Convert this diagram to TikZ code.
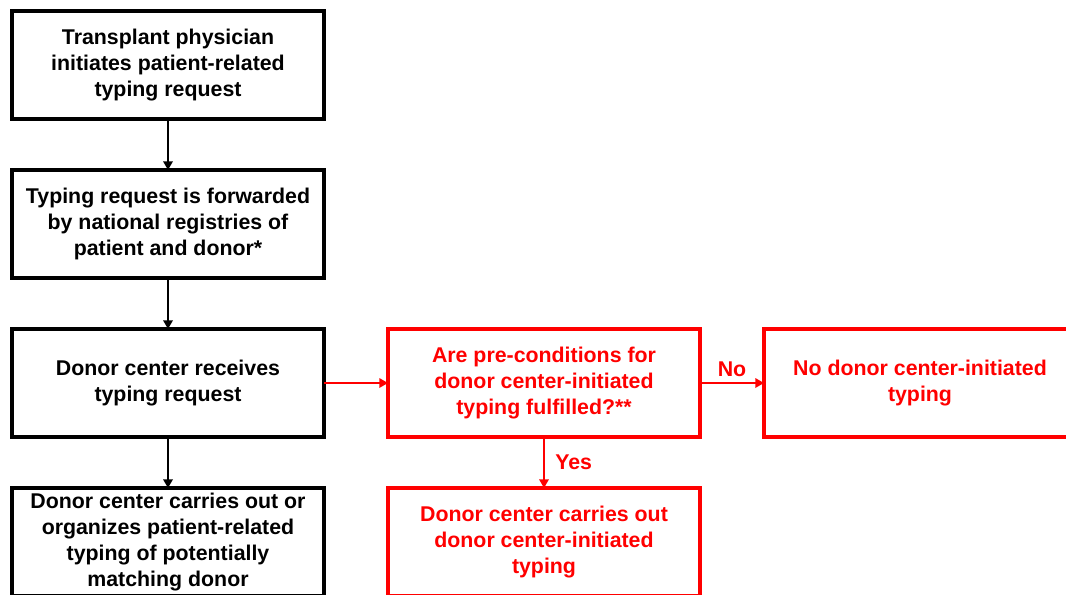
\documentclass[tikz,border=0pt]{standalone}
\usepackage{fontspec}
\setmainfont{Liberation Sans}
\usetikzlibrary{arrows.meta, positioning}

\begin{document}
\begin{tikzpicture}[x=0.75pt, y=-0.75pt, node distance=38.25pt and 48pt, >={Triangle[length=6.5pt, width=7pt]},
    step box/.style={rectangle, draw=black, line width=2.6pt, outer sep=0pt, inner sep=2pt, minimum width=234pt, minimum height=81pt, align=center, font=\fontsize{16}{19.5}\selectfont\bfseries},
    red box/.style={step box, draw=red, text=red},
    flow/.style={->, line width=2.2pt},
    lbl/.style={text=red, font=\fontsize{16}{19.5}\selectfont\bfseries}]

    \useasboundingbox (0,0) rectangle (1066,594);
    \clip (0,0) rectangle (1066,594);

    % Main path
    \node (physician) [step box] at (168,65) {Transplant physician\\initiates patient-related\\typing request};
    \node (forward) [step box, below=of physician] {Typing request is forwarded\\by national registries of\\patient and donor*};
    \node (receive) [step box, below=of forward] {Donor center receives\\typing request};
    \node (patient_typing) [step box, below=of receive] {Donor center carries out or\\organizes patient-related\\typing of potentially\\matching donor};

    % Donor center-initiated path
    \node (precond) [red box, right=of receive] {Are pre-conditions for\\donor center-initiated\\typing fulfilled?**};
    \node (no_typing) [red box, right=of precond] {No donor center-initiated\\typing};
    \node (dc_typing) [red box, below=of precond] {Donor center carries out\\donor center-initiated\\typing};

    % Connections
    \draw[flow] (physician) -- (forward);
    \draw[flow] (forward) -- (receive);
    \draw[flow] (receive) -- (patient_typing);

    \draw[flow, red] (receive) -- (precond);
    \draw[flow, red] (precond) -- node[lbl, above] {No} (no_typing);
    \draw[flow, red] (precond) -- node[lbl, right, xshift=4pt] {Yes} (dc_typing);

\end{tikzpicture}
\end{document}
